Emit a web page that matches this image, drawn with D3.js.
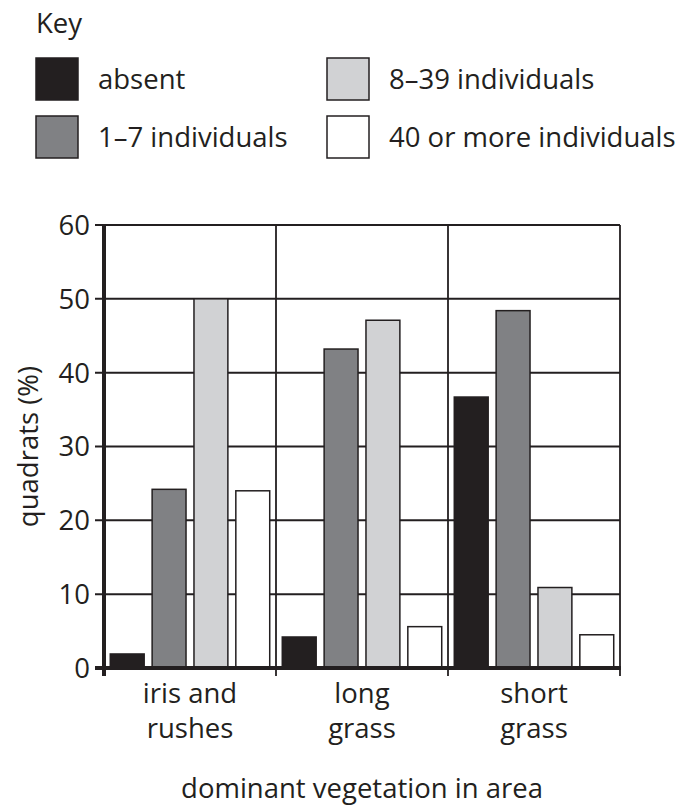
<!DOCTYPE html>
<html>
<head>
<meta charset="utf-8">
<script src="https://cdn.jsdelivr.net/npm/d3@7"></script>
<style>
  body { margin: 0; background: #fff; }
  svg text { font-family: "Open Sans", sans-serif; fill: #231f20; }
</style>
</head>
<body>
<svg id="chart" width="686" height="805"></svg>
<script>
// data
const categories = ["iris and rushes", "long grass", "short grass"]
const categoryLines = [["iris and", "rushes"], ["long", "grass"], ["short", "grass"]]
const seriesNames = ["absent", "1\u20137 individuals", "8\u201339 individuals", "40 or more individuals"]
const seriesColors = ["#231f20", "#808184", "#d1d2d4", "#ffffff"]
const absent = [1.9, 4.2, 36.7]
const few = [24.2, 43.2, 48.4]
const some = [50, 47.1, 10.9]
const many = [24.0, 5.6, 4.5]
const yTicks = [0, 10, 20, 30, 40, 50, 60]

const series = [absent, few, some, many]
const ink = "#231f20"
const fontSize = "27.5px"

const svg = d3.select("#chart")

const plot = { left: 104, right: 620, top: 225, bottom: 668 }

const x0 = d3.scaleBand()
    .domain(categories)
    .range([plot.left, plot.right])
    .padding(0)

const x1 = d3.scaleBand()
    .domain(d3.range(series.length))
    .range([0, x0.bandwidth()])
    .paddingInner(0.19)
    .paddingOuter(0.15)

const y = d3.scaleLinear()
    .domain([0, 60])
    .range([plot.bottom, plot.top])

// horizontal grid + outward ticks
svg.selectAll(".hgrid")
    .data(yTicks.filter(t => t > 0))
    .enter().append("line")
    .attr("x1", plot.left - 9)
    .attr("x2", plot.right)
    .attr("y1", d => y(d))
    .attr("y2", d => y(d))
    .attr("stroke", ink)
    .attr("stroke-width", 2)

// category separators
svg.selectAll(".vgrid")
    .data(categories)
    .enter().append("line")
    .attr("x1", d => x0(d) + x0.bandwidth())
    .attr("x2", d => x0(d) + x0.bandwidth())
    .attr("y1", plot.top)
    .attr("y2", plot.bottom + 8)
    .attr("stroke", ink)
    .attr("stroke-width", 1.8)

// bars
categories.forEach((cat, ci) => {
    svg.selectAll(null)
        .data(series)
        .enter().append("rect")
        .attr("x", (s, si) => x0(cat) + x1(si))
        .attr("y", s => y(s[ci]))
        .attr("width", x1.bandwidth())
        .attr("height", s => plot.bottom - y(s[ci]))
        .attr("fill", (s, si) => seriesColors[si])
        .attr("stroke", ink)
        .attr("stroke-width", 1.5)
})

// axes (thick)
svg.append("line")
    .attr("x1", plot.left).attr("x2", plot.left)
    .attr("y1", plot.top).attr("y2", plot.bottom + 8)
    .attr("stroke", ink).attr("stroke-width", 4)

svg.append("line")
    .attr("x1", plot.left - 9).attr("x2", plot.right + 1)
    .attr("y1", plot.bottom).attr("y2", plot.bottom)
    .attr("stroke", ink).attr("stroke-width", 4)

// y tick labels
svg.selectAll(".ylab")
    .data(yTicks)
    .enter().append("text")
    .attr("x", plot.left - 14)
    .attr("y", d => y(d))
    .attr("dy", "0.36em")
    .attr("text-anchor", "end")
    .attr("font-size", fontSize)
    .text(d => d)

// x category labels
svg.selectAll(".xlab")
    .data(categoryLines)
    .enter().append("text")
    .attr("x", (d, i) => x0(categories[i]) + x0.bandwidth() / 2)
    .attr("y", 703)
    .attr("text-anchor", "middle")
    .attr("font-size", fontSize)
    .each(function (lines) {
        const t = d3.select(this)
        lines.forEach((l, li) => {
            t.append("tspan")
                .attr("x", t.attr("x"))
                .attr("dy", li === 0 ? 0 : 35)
                .text(l)
        })
    })

// axis titles
svg.append("text")
    .attr("transform", `translate(38,${(plot.top + plot.bottom) / 2}) rotate(-90)`)
    .attr("text-anchor", "middle")
    .attr("font-size", fontSize)
    .text("quadrats (%)")

svg.append("text")
    .attr("x", (plot.left + plot.right) / 2)
    .attr("y", 798)
    .attr("text-anchor", "middle")
    .attr("font-size", fontSize)
    .text("dominant vegetation in area")

// key
svg.append("text")
    .attr("x", 36).attr("y", 33)
    .attr("font-size", fontSize)
    .text("Key")

const keyPos = [[36, 58], [36, 116], [327, 58], [327, 116]]

svg.selectAll(".keybox")
    .data(seriesNames)
    .enter().append("rect")
    .attr("x", (d, i) => keyPos[i][0])
    .attr("y", (d, i) => keyPos[i][1])
    .attr("width", 42)
    .attr("height", 42)
    .attr("fill", (d, i) => seriesColors[i])
    .attr("stroke", ink)
    .attr("stroke-width", 1.5)

svg.selectAll(".keytext")
    .data(seriesNames)
    .enter().append("text")
    .attr("x", (d, i) => keyPos[i][0] + 62)
    .attr("y", (d, i) => keyPos[i][1] + 31)
    .attr("font-size", fontSize)
    .text(d => d)
</script>
</body>
</html>
